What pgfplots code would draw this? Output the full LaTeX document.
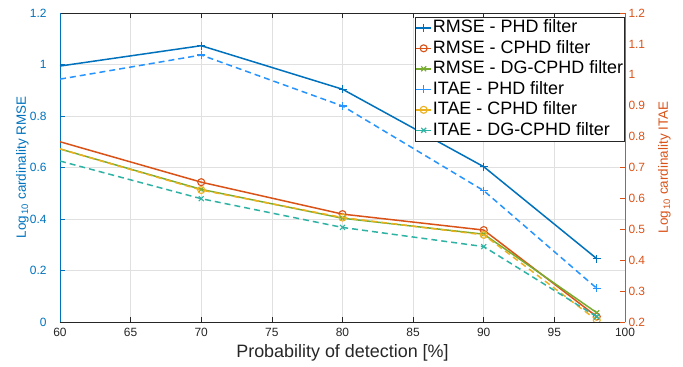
\documentclass[border=0pt]{standalone}
\usepackage{fontspec}
\setmainfont{Liberation Sans}
\usepackage{pgfplots}
\pgfplotsset{compat=1.18}
\definecolor{mblue}{rgb}{0,0.447,0.741}
\definecolor{morange}{rgb}{0.85,0.325,0.098}
\definecolor{mgreen}{rgb}{0.466,0.674,0.188}
\definecolor{skyb}{rgb}{0.15,0.58,1.0}
\definecolor{myellow}{rgb}{0.929,0.694,0.125}
\definecolor{mteal}{rgb}{0.18,0.70,0.64}
\definecolor{axgray}{rgb}{0.15,0.15,0.15}
\definecolor{gridgray}{rgb}{0.88,0.88,0.88}
\pgfplotsset{
  common/.style={
    scale only axis, width=565bp, height=309bp,
    xmin=60, xmax=100,
    /pgf/number format/assume math mode=true,
    tick label style={font=\fontsize{12}{14}\selectfont},
    major tick length=5bp,
    tick align=inside,
    clip marker paths=true,
  },
  sty1/.style={mblue, line width=1.5bp, mark=+, mark size=4bp, mark options={solid, line width=1.3bp}},
  sty2/.style={morange, line width=1.5bp, mark=o, mark size=3.5bp, mark options={solid, line width=1.1bp}},
  sty3/.style={mgreen, line width=1.5bp, mark=x, mark size=3.5bp, mark options={solid, line width=1.1bp}},
  sty4/.style={skyb, line width=1.5bp, dash pattern=on 6bp off 4bp, mark=+, mark size=4bp, mark options={solid, line width=1.3bp, draw=skyb}},
  sty5/.style={myellow, line width=1.5bp, dash pattern=on 6bp off 4bp, mark=o, mark size=3.5bp, mark options={solid, line width=1.1bp}},
  sty6/.style={mteal, line width=1.5bp, dash pattern=on 6bp off 4bp, mark=x, mark size=3.5bp, mark options={solid, line width=1.1bp}},
  pts/.style={mark indices={2,3,4,5}},
}
\begin{document}
\begin{tikzpicture}
\begin{axis}[
  common,
  name=ax,
  ymin=0, ymax=1.2,
  xtick={60,65,...,100},
  ytick={0,0.2,0.4,0.6,0.8,1,1.2},
  yticklabels={0,0.2,0.4,0.6,0.8,1,1.2},
  axis y line*=left,
  grid=major,
  grid style={gridgray, line width=0.6bp},
  x axis line style={axgray, line width=0.8bp},
  y axis line style={mblue, line width=0.8bp},
  xtick style={axgray, line width=0.6bp},
  ytick style={mblue, line width=0.6bp},
  x tick label style={axgray, yshift=-2.5bp},
  y tick label style={mblue, xshift=-10bp},
  xlabel={Probability of detection [\%]},
  xlabel style={font=\fontsize{18}{20}\selectfont, axgray, at={(axis description cs:0.5,0)}, anchor=base, yshift=-35bp},
  ylabel={Log\textsubscript{\,10} cardinality RMSE},
  ylabel style={font=\fontsize{13.5}{16}\selectfont, mblue, at={(axis description cs:-0.0664,0.5)}, anchor=center},
]
\addplot[sty1, pts] coordinates {(60,0.994)(70,1.073)(80,0.904)(90,0.603)(98,0.246)};
\addplot[sty2, pts] coordinates {(60,0.700)(70,0.543)(80,0.419)(90,0.357)(98,0.021)};
\addplot[sty3, pts] coordinates {(60,0.672)(70,0.515)(80,0.403)(90,0.341)(98,0.036)};
\end{axis}
\begin{axis}[
  common,
  ymin=0.2, ymax=1.2,
  axis y line*=right,
  axis x line=none,
  ytick={0.2,0.3,0.4,0.5,0.6,0.7,0.8,0.9,1,1.1,1.2},
  yticklabels={0.2,0.3,0.4,0.5,0.6,0.7,0.8,0.9,1,1.1,1.2},
  y axis line style={morange, line width=0.8bp},
  ytick style={morange, line width=0.6bp},
  y tick label style={morange},
  ylabel={Log\textsubscript{\,10} cardinality ITAE},
  ylabel style={font=\fontsize{13.5}{16}\selectfont, morange, at={(axis description cs:1.0699,0.5)}, anchor=center},
  legend style={at={(1,0.987)}, anchor=north east, draw=axgray, line width=0.6bp,
    font=\fontsize{18}{20}\selectfont, inner xsep=0.5bp, inner ysep=1.5bp,
    row sep=2.5bp, nodes={inner sep=1bp, text height=13bp, text depth=3bp}},
  legend cell align=left,
  legend image code/.code={\draw[mark repeat=2, mark phase=2] plot coordinates {(0bp,0bp) (7.5bp,0bp) (15bp,0bp)};},
]
\addlegendimage{sty1, solid}
\addlegendentry{RMSE - PHD filter}
\addlegendimage{sty2, solid}
\addlegendentry{RMSE - CPHD filter}
\addlegendimage{sty3, solid}
\addlegendentry{RMSE - DG-CPHD filter}
\addlegendimage{skyb, line width=1.5bp, solid, mark=+, mark size=4bp, mark options={skyb, solid, line width=1.3bp}}
\addlegendentry{ITAE - PHD filter}
\addlegendimage{sty5, solid}
\addlegendentry{ITAE - CPHD filter}
\addlegendimage{sty6, solid}
\addlegendentry{ITAE - DG-CPHD filter}
\addplot[sty4, pts, forget plot] coordinates {(60,0.986)(70,1.064)(80,0.899)(90,0.625)(98,0.309)};
\addplot[sty5, pts, forget plot] coordinates {(60,0.760)(70,0.627)(80,0.538)(90,0.482)(98,0.206)};
\addplot[sty6, pts, forget plot] coordinates {(60,0.721)(70,0.599)(80,0.506)(90,0.444)(98,0.217)};
\end{axis}
\pgfresetboundingbox
\path ([shift={(-60bp,-45bp)}]ax.south west) rectangle ([shift={(58bp,13bp)}]ax.north east);
\end{tikzpicture}
\end{document}
